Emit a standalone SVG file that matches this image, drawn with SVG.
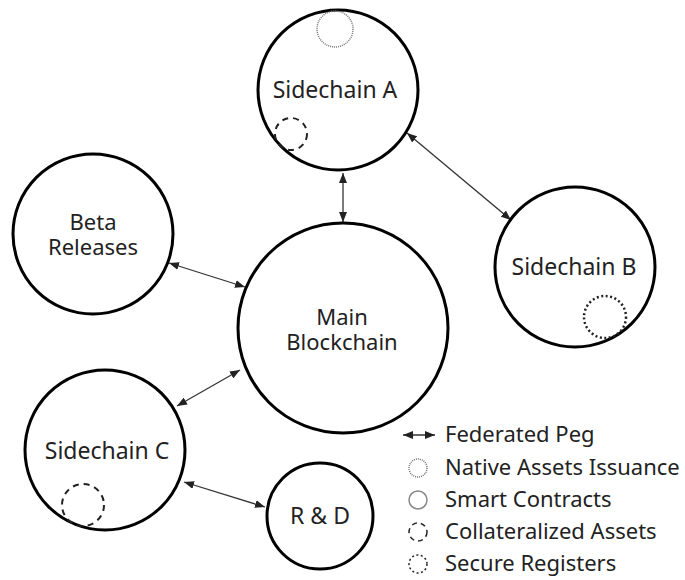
<svg xmlns="http://www.w3.org/2000/svg" width="685" height="580" viewBox="0 0 685 580">
<defs>
<style>
.node{fill:#fff;stroke:#000;stroke-width:3}
.lbl{font-family:"Noto Sans","DejaVu Sans",sans-serif;font-size:23px;fill:#222;text-anchor:middle}
.lbl2{font-family:"Noto Sans","DejaVu Sans",sans-serif;font-size:22px;fill:#222;text-anchor:middle}
.leg{font-family:"Noto Sans","DejaVu Sans",sans-serif;font-size:22px;fill:#222}
.conn{stroke:#333;stroke-width:1.3;fill:none;marker-start:url(#ah);marker-end:url(#ah)}
.native{fill:none;stroke:#777;stroke-width:1.5;stroke-dasharray:1 1}
.smart{fill:none;stroke:#888;stroke-width:1.5}
.coll{fill:none;stroke:#222;stroke-width:2;stroke-dasharray:6 5}
.secure{fill:none;stroke:#222;stroke-width:2.5;stroke-dasharray:2 2.5}
</style>
<marker id="ah" viewBox="0 0 10 8" refX="10" refY="4" markerWidth="10" markerHeight="8" markerUnits="userSpaceOnUse" orient="auto-start-reverse">
<path d="M0,0 L10,4 L0,8 z" fill="#222"/>
</marker>
</defs>
<rect width="685" height="580" fill="#fff"/>
<g id="connectors">
<line class="conn" x1="343" y1="173" x2="343" y2="222"/>
<line class="conn" x1="407" y1="133" x2="511" y2="220"/>
<line class="conn" x1="169" y1="263" x2="245" y2="287"/>
<line class="conn" x1="240" y1="370" x2="177" y2="406"/>
<line class="conn" x1="184" y1="482" x2="265" y2="507"/>
</g>
<g id="sidechain-a">
<circle class="node" cx="338" cy="90" r="80"/>
<circle class="native" cx="335" cy="29" r="18"/>
<circle class="coll" cx="291" cy="134" r="16"/>
<text class="lbl" x="335" y="98">Sidechain A</text>
</g>
<g id="sidechain-b">
<circle class="node" cx="575" cy="267" r="80"/>
<circle class="secure" cx="605" cy="317" r="21"/>
<text class="lbl" x="574" y="275">Sidechain B</text>
</g>
<g id="beta-releases">
<circle class="node" cx="93" cy="234" r="80"/>
<text class="lbl2" x="93" y="230">Beta<tspan x="93" dy="25">Releases</tspan></text>
</g>
<g id="main-blockchain">
<circle class="node" cx="343" cy="328" r="105"/>
<text class="lbl2" x="342" y="325">Main<tspan x="342" dy="25">Blockchain</tspan></text>
</g>
<g id="sidechain-c">
<circle class="node" cx="105" cy="450" r="80"/>
<circle class="coll" cx="83" cy="505" r="21"/>
<text class="lbl" x="107" y="459">Sidechain C</text>
</g>
<g id="r-and-d">
<circle class="node" cx="320" cy="516" r="53"/>
<text class="lbl" x="320" y="524">R &amp; D</text>
</g>
<g id="legend">
<line class="conn" x1="403" y1="435" x2="435" y2="435" style="stroke-width:1.5"/>
<text class="leg" x="445" y="442">Federated Peg</text>
<circle class="native" cx="418" cy="468" r="9"/>
<text class="leg" x="445" y="475">Native Assets Issuance</text>
<circle class="smart" cx="418" cy="500" r="9"/>
<text class="leg" x="445" y="507">Smart Contracts</text>
<circle class="coll" cx="418" cy="532" r="9" style="stroke-width:1.5;stroke-dasharray:5 4"/>
<text class="leg" x="445" y="539">Collateralized Assets</text>
<circle class="secure" cx="418" cy="564" r="9" style="stroke-width:1.5;stroke-dasharray:2 2.5"/>
<text class="leg" x="445" y="571">Secure Registers</text>
</g>
</svg>
